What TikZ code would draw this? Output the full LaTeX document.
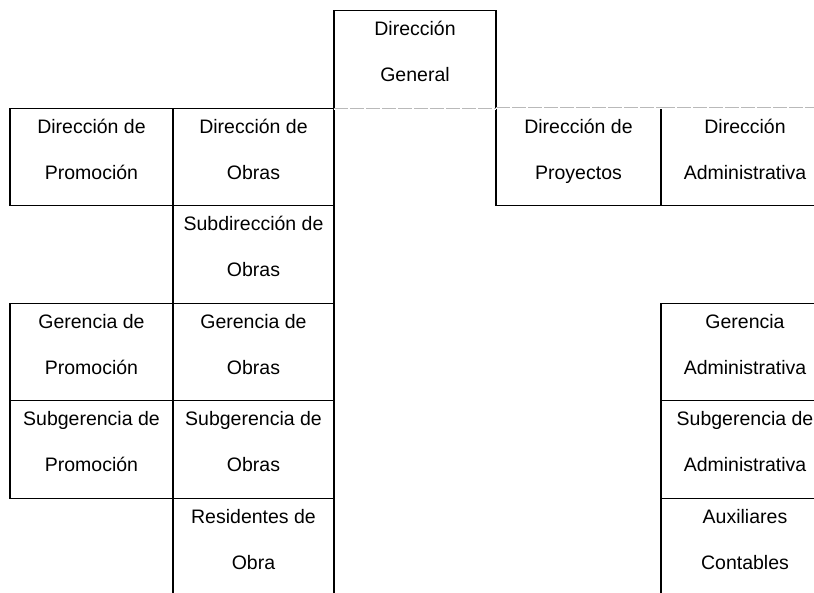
\documentclass[tikz,border=0pt]{standalone}
\usepackage{fontspec}
\setmainfont{Liberation Sans}

\tikzset{
  cell/.style={draw, line width=1.2pt, minimum height=97.5pt, align=center,
    inner sep=0pt, text height=61pt, text depth=17pt,
    font=\fontsize{19.5}{46}\selectfont},
  faint/.style={gray!55, line width=0.9pt, dash pattern={on 14pt off 2pt},
    shorten <=0.8pt, shorten >=0.8pt},
}

\begin{document}
\begin{tikzpicture}[x=1pt, y=-1pt]

\useasboundingbox (0,0) rectangle (814,592);
\clip (0,0) rectangle (814,592);

% --- Top ---
\node[cell, minimum width=162pt] (dg) at (415,59.5) {Dirección\\General};

% --- Promocion column ---
\foreach \n/\y/\t in {dprom/157/{Dirección de\\Promoción},
                      gprom/352/{Gerencia de\\Promoción},
                      sgprom/449.5/{Subgerencia de\\Promoción}} {
    \node[cell, minimum width=163pt] (\n) at (91.5,\y) {\t};
}

% --- Obras column ---
\foreach \n/\y/\t in {dobras/157/{Dirección de\\Obras},
                      sdobras/254.5/{Subdirección de\\Obras},
                      gobras/352/{Gerencia de\\Obras},
                      sgobras/449.5/{Subgerencia de\\Obras},
                      resobra/547/{Residentes de\\Obra}} {
    \node[cell, minimum width=161pt] (\n) at (253.5,\y) {\t};
}

% --- Proyectos ---
\node[cell, minimum width=165pt] (dproy) at (578.5,157) {Dirección de\\Proyectos};

% --- Administrativa column ---
\foreach \n/\y/\t in {dadm/157/{Dirección\\Administrativa},
                      gadm/352/{Gerencia\\Administrativa},
                      sgadm/449.5/{Subgerencia de\\Administrativa},
                      auxcont/547/{Auxiliares\\Contables}} {
    \node[cell, minimum width=168pt] (\n) at (745,\y) {\t};
}

% faint line under Direccion General
\foreach \a/\b in {dg.south west/dg.south east, dproy.north west/dproy.north east,
                   dadm.north west/dadm.north east} {
    \draw[white, line width=2pt, shorten <=0.8pt, shorten >=0.8pt] (\a) -- (\b);
    \draw[faint] (\a) -- (\b);
}

\end{tikzpicture}
\end{document}
